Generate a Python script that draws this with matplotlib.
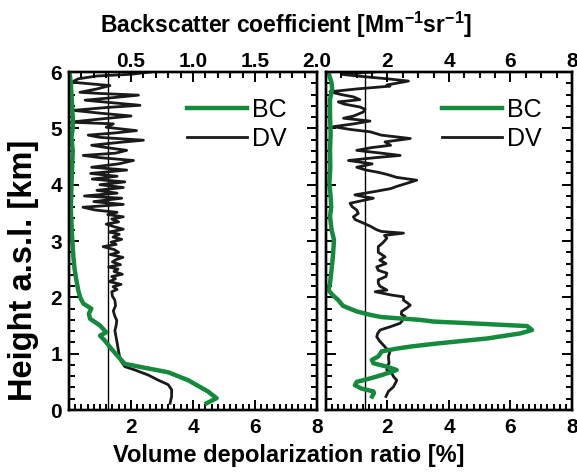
import matplotlib
matplotlib.use('Agg')
import matplotlib.pyplot as plt
from matplotlib.ticker import MultipleLocator
import numpy as np

plt.rcParams['font.family'] = ['Liberation Sans', 'DejaVu Sans']
plt.rcParams['font.weight'] = 'bold'
plt.rcParams['mathtext.fontset'] = 'custom'
plt.rcParams['mathtext.rm'] = 'Liberation Sans'
plt.rcParams['mathtext.bf'] = 'Liberation Sans:bold'

green = '#138a3c'

# left panel: backscatter (BC, top axis 0-2) and depolarization (DV, bottom axis 0-8)
bc1_h = [0.12, 0.21, 0.33, 0.43, 0.53, 0.60, 0.67, 0.75, 0.82, 0.94, 1.09, 1.23, 1.32, 1.38,
         1.50, 1.62, 1.71, 1.80, 1.89, 2.00, 2.12, 2.30, 2.50, 2.72, 3.07, 3.55, 4.02, 4.30,
         4.60, 4.85, 5.00, 5.20, 5.40, 5.60, 5.80, 5.97]
bc1_v = [1.11, 1.19, 1.12, 1.04, 0.96, 0.88, 0.80, 0.61, 0.45, 0.40, 0.34, 0.29, 0.25, 0.30,
         0.25, 0.17, 0.16, 0.18, 0.115, 0.09, 0.075, 0.06, 0.045, 0.035, 0.025, 0.015, 0.02, 0.025,
         0.03, 0.02, 0.03, 0.03, 0.025, 0.02, 0.015, 0.005]

dv1_h = [0.12, 0.24, 0.36, 0.45, 0.53, 0.62, 0.71, 0.77, 0.89, 1.07, 1.23, 1.41, 1.50, 1.59,
         1.68, 1.76, 1.85, 1.95, 2.02, 2.10, 2.14, 2.19, 2.23, 2.28, 2.33, 2.37, 2.41, 2.46,
         2.50, 2.54, 2.58, 2.63, 2.67, 2.71, 2.76, 2.80, 2.85, 2.90, 2.94, 2.98, 3.03, 3.07,
         3.12, 3.16, 3.21, 3.25, 3.30, 3.34, 3.39, 3.43, 3.47, 3.51, 3.55, 3.60, 3.65, 3.70,
         3.76, 3.80, 3.85, 3.90, 3.95, 4.00, 4.05, 4.10, 4.15, 4.20, 4.26, 4.31, 4.37, 4.43,
         4.48, 4.52, 4.56, 4.61, 4.66, 4.70, 4.75, 4.79, 4.84, 4.88, 4.92, 4.96, 5.02, 5.08,
         5.11, 5.16, 5.22, 5.27, 5.32, 5.37, 5.41, 5.46, 5.50, 5.55, 5.59, 5.62, 5.64, 5.70,
         5.76, 5.82, 5.88, 5.93, 5.96, 6.00, 6.05]
dv1_v = [3.26, 3.31, 3.31, 3.20, 2.88, 2.56, 2.13, 1.80, 1.65, 1.59, 1.54, 1.48, 1.52, 1.54,
         1.47, 1.43, 1.50, 1.48, 1.40, 1.38, 1.55, 1.42, 1.68, 1.30, 1.50, 1.38, 1.72, 1.45,
         1.58, 1.28, 1.66, 1.40, 1.52, 1.74, 1.33, 1.60, 1.45, 1.10, 1.52, 1.36, 1.70, 1.42,
         1.62, 1.30, 1.75, 1.48, 1.20, 1.60, 1.38, 1.75, 1.25, 1.55, 0.85, 0.45, 1.75, 0.80,
         1.70, 0.50, 1.55, 0.90, 1.75, 1.00, 1.80, 0.75, 1.55, 0.70, 1.86, 0.73, 1.60, 2.08,
         1.00, 0.46, 1.50, 1.86, 1.20, 0.73, 1.60, 2.40, 1.00, 0.62, 1.50, 2.18, 1.20, 1.43,
         0.03, 0.90, 2.00, 1.00, 0.14, 1.20, 2.29, 1.30, 0.52, 1.50, 2.24, 1.00, 0.35, 0.90,
         1.32, 0.09, 0.30, 0.90, 2.00, 2.60, 3.50]

# right panel: backscatter (top axis 0-8) and depolarization (bottom axis 0-8)
bc2_h = [0.24, 0.30, 0.33, 0.38, 0.44, 0.50, 0.56, 0.62, 0.71, 0.77, 0.83, 0.89, 0.95, 1.04,
         1.09, 1.13, 1.18, 1.27, 1.36, 1.42, 1.49, 1.54, 1.57, 1.60, 1.65, 1.69, 1.75, 1.85,
         1.95, 2.05, 2.13, 2.25, 2.49, 2.70, 2.85, 3.02, 3.20, 3.44, 3.60, 3.79, 4.03, 4.30,
         4.62, 4.90, 5.22, 5.51, 5.70, 5.81, 5.99]
bc2_v = [1.50, 1.56, 1.54, 1.16, 0.94, 1.00, 1.43, 1.81, 2.30, 1.98, 1.54, 1.49, 1.70, 1.81,
         2.30, 2.80, 3.60, 5.24, 6.32, 6.70, 6.54, 4.69, 3.50, 3.06, 1.80, 1.43, 1.00, 0.55,
         0.40, 0.20, 0.08, 0.13, 0.18, 0.22, 0.24, 0.26, 0.18, 0.13, 0.17, 0.15, 0.11, 0.14,
         0.13, 0.15, 0.13, 0.13, 0.20, 0.18, 0.08]

dv2_h = [0.24, 0.33, 0.41, 0.47, 0.53, 0.59, 0.65, 0.71, 0.77, 0.83, 0.95, 1.04, 1.10, 1.15,
         1.22, 1.30, 1.36, 1.42, 1.48, 1.54, 1.60, 1.66, 1.70, 1.75, 1.80, 1.86, 1.90, 1.95,
         2.01, 2.04, 2.10, 2.13, 2.20, 2.25, 2.31, 2.37, 2.43, 2.48, 2.54, 2.60, 2.66, 2.72,
         2.80, 2.90, 2.97, 3.05, 3.10, 3.14, 3.17, 3.20, 3.26, 3.32, 3.38, 3.43, 3.49, 3.55,
         3.61, 3.67, 3.72, 3.76, 3.79, 3.82, 3.88, 3.93, 3.97, 4.02, 4.08, 4.13, 4.18, 4.22,
         4.26, 4.31, 4.37, 4.43, 4.48, 4.52, 4.56, 4.61, 4.66, 4.70, 4.76, 4.82, 4.88, 4.94,
         4.98, 5.03, 5.08, 5.13, 5.18, 5.22, 5.29, 5.34, 5.38, 5.43, 5.47, 5.51, 5.56, 5.60,
         5.65, 5.70, 5.75, 5.77, 5.84, 5.88, 5.92, 5.96, 6.00, 6.05]
dv2_v = [1.95, 2.03, 2.19, 2.25, 2.30, 2.20, 2.14, 1.98, 1.98, 2.05, 2.03, 2.08, 1.95, 1.87,
         1.75, 1.65, 1.68, 1.76, 2.10, 2.41, 2.50, 2.57, 2.45, 2.46, 2.60, 2.74, 2.65, 2.52,
         2.52, 2.14, 1.60, 1.98, 1.75, 1.70, 1.70, 1.95, 1.98, 1.70, 1.65, 1.95, 1.75, 1.92,
         1.70, 1.70, 1.85, 1.98, 1.90, 2.52, 1.80, 1.65, 1.45, 1.21, 0.95, 0.89, 1.05, 1.00,
         0.85, 0.78, 1.20, 1.54, 1.20, 0.94, 1.60, 2.10, 2.30, 2.60, 2.95, 2.30, 2.00, 1.70,
         1.30, 1.00, 1.50, 0.73, 1.60, 2.41, 1.80, 1.00, 1.50, 2.10, 1.92, 2.74, 1.80, 1.43,
         0.80, 0.24, 0.90, 1.43, 0.57, 0.90, 1.21, 1.27, 1.10, 0.60, 0.40, 1.10, 0.89, 0.50,
         0.13, 1.00, 2.08, 1.98, 2.68, 2.00, 1.20, 0.50, 1.50, 2.50]

ref_dv = 1.27

fig = plt.figure(figsize=(5.77, 4.74), dpi=100)
ax_l = fig.add_axes([0.1196, 0.135, 0.4298, 0.713])
ax_r = fig.add_axes([0.565, 0.135, 0.4263, 0.713])


def style(ax, top, top_lim, top_ticks, top_labels, top_minor, ylabels):
    for a in (ax, top):
        for s in a.spines.values():
            s.set_linewidth(1.7)
    ax.set_xlim(0, 8)
    ax.set_ylim(0, 6)
    ax.set_xticks([0, 2, 4, 6, 8])
    ax.set_xticklabels(['', '2', '4', '6', '8'])
    ax.xaxis.set_minor_locator(MultipleLocator(0.2))
    ax.set_yticks(range(7))
    ax.yaxis.set_minor_locator(MultipleLocator(0.2))
    if not ylabels:
        ax.set_yticklabels([])
    ax.tick_params(which='both', direction='in', right=True, width=1.4, labelsize=15)
    ax.tick_params(which='major', length=7)
    ax.tick_params(which='minor', length=4)
    ax.tick_params(axis='x', pad=6)
    ax.tick_params(axis='y', pad=5)
    top.set_xlim(*top_lim)
    top.set_xticks(top_ticks)
    top.set_xticklabels(top_labels)
    top.xaxis.set_minor_locator(MultipleLocator(top_minor))
    top.tick_params(which='both', direction='in', width=1.4, labelsize=15, pad=1)
    top.tick_params(which='major', length=7)
    top.tick_params(which='minor', length=4)


for ax, bh, bv, dh, dv, lim, ticks, labs, mnr, yl in [
        (ax_l, bc1_h, bc1_v, dv1_h, dv1_v, (0, 2), [0, 0.5, 1.0, 1.5, 2.0],
         ['', '0.5', '1.0', '1.5', '2.0'], 0.1, True),
        (ax_r, bc2_h, bc2_v, dv2_h, dv2_v, (0, 8), [0, 2, 4, 6, 8],
         ['', '2', '4', '6', '8'], 0.5, False)]:
    top = ax.twiny()
    ax.axvline(ref_dv, color='k', lw=1.0)
    l_dv, = ax.plot(dv, dh, color='#1a1a1a', lw=2.0, label='DV')
    l_bc, = top.plot(bv, bh, color=green, lw=3.2, label='BC')
    style(ax, top, lim, ticks, labs, mnr, yl)
    top.legend([l_bc, l_dv], ['BC', 'DV'], loc='upper right', bbox_to_anchor=(0.97, 0.99),
               frameon=False, handlelength=2.4, handletextpad=0.2, labelspacing=0.2,
               prop={'size': 18, 'weight': 'normal'})

fig.text(0.495, 0.947, r'Backscatter coefficient [Mm$^{\mathbf{-1}}$sr$^{\mathbf{-1}}$]',
         ha='center', va='center', fontsize=16.5, fontweight='bold')
fig.text(0.5, 0.04, 'Volume depolarization ratio [%]', ha='center', va='center',
         fontsize=17, fontweight='bold')
fig.text(0.04, 0.43, 'Height a.s.l. [km]', ha='center', va='center', rotation=90,
         fontsize=23.5, fontweight='bold')

fig.savefig('out.png', dpi=100)
